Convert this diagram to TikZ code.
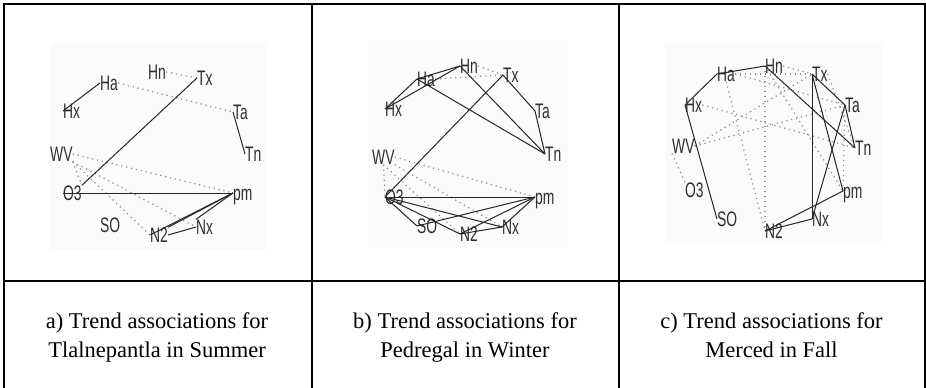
\documentclass[tikz,border=0pt]{standalone}
\usepackage{fontspec}
\setmainfont{Liberation Serif}
\newfontfamily\labfont[FakeStretch=0.66]{Liberation Sans}
\begin{document}
\begin{tikzpicture}[x=1pt,y=-1pt,
  lab/.style={font=\labfont\fontsize{21}{22}\selectfont, text=black!82, inner sep=0pt, anchor=west, text height=15pt, text depth=0pt},
  sl/.style={line width=1pt, draw=black!85},
  dl/.style={line width=1.2pt, draw=black!45, dash pattern=on 1.2pt off 3.8pt},
  frame/.style={line width=2pt, line join=miter},
  captxt/.style={font=\fontsize{22.5}{28.5}\selectfont, align=center, anchor=base},
  bg/.style={fill=black!1.5, draw=none}]
\useasboundingbox (0,0) rectangle (926,388);
% faint image backgrounds
\fill[bg] (50,43) rectangle (267,250);
\fill[bg] (368,40) rectangle (568,247);
\fill[bg] (665,43) rectangle (882,243);
% table frame
\draw[frame] (4,392) -- (4,3.5) -- (924.5,3.5) -- (924.5,392);
\draw[frame] (4,280.5) -- (924.5,280.5);
\draw[frame] (312,3.5) -- (312,392);
\draw[frame] (618.5,3.5) -- (618.5,392);
% captions (anchor = baseline of the last line)
\node[captxt] (capa) at (157,357) {a) Trend associations for\\Tlalnepantla in Summer};
\node[captxt] (capb) at (465,357) {b) Trend associations for\\Pedregal in Winter};
\node[captxt] (capc) at (771.5,357) {c) Trend associations for\\Merced in Fall};
% ---------- panel a ----------
\node[lab] (aHa) at (100,83) {Ha};
\node[lab] (aHn) at (148,72) {Hn};
\node[lab] (aTx) at (197,78) {Tx};
\node[lab] (aHx) at (63,111) {Hx};
\node[lab] (aTa) at (233,112) {Ta};
\node[lab] (aTn) at (245,154) {Tn};
\node[lab] (aWV) at (50,154) {WV};
\node[lab] (aO3) at (63,193) {O3};
\node[lab] (apm) at (233,193) {pm};
\node[lab] (aSO) at (100,225) {SO};
\node[lab] (aN2) at (150,235) {N2};
\node[lab] (aNx) at (196,227) {Nx};
\draw[dl] (aHn.east) -- (aTx.west);
\draw[dl] (aHa.east) -- (aTa.west);
\draw[dl] (aWV.east) -- (apm.west);
\draw[dl] (aWV.south east) -- (aNx.west);
\draw[dl] (aWV.south east) -- (aO3.north east);
\draw[dl] (aWV.south east) -- (aN2.west);
\draw[sl] (aHx.west) -- (aHa.west);
\draw[sl] (aTx.west) -- (aO3.north east);
\draw[sl] (aTa.west) -- (aTn.west);
\draw[sl] (aO3.west) -- (apm.west);
\draw[sl] (apm.west) -- (aN2.west);
\draw[sl] (apm.west) -- (aN2.north east);
\draw[sl] (apm.west) -- (aNx.north west);
\draw[sl] (aN2.east) -- (aNx.west);
% ---------- panel b ----------
\node[lab] (bHn) at (460,66) {Hn};
\node[lab] (bHa) at (417,79) {Ha};
\node[lab] (bTx) at (503,75) {Tx};
\node[lab] (bHx) at (385,109) {Hx};
\node[lab] (bTa) at (535,111) {Ta};
\node[lab] (bTn) at (545,154) {Tn};
\node[lab] (bWV) at (372,157) {WV};
\node[lab] (bO3) at (385,197) {O3};
\node[lab] (bpm) at (535,197) {pm};
\node[lab] (bSO) at (417,226) {SO};
\node[lab] (bN2) at (460,234) {N2};
\node[lab] (bNx) at (502,227) {Nx};
\draw[dl] (bHa.east) -- (bTx.west);
\draw[dl] (bHn.east) -- (bTx.west);
\draw[dl] (bWV.east) -- (bpm.west);
\draw[dl] (bWV.south) -- (bO3.west);
\draw[dl] (bWV.south) -- (bN2.west);
\draw[dl] (bWV.south east) -- (bNx.west);
\draw[sl] (bHx.west) -- (bHa.west);
\draw[sl] (bHx.west) -- (bHn.west);
\draw[sl] (bHa.west) -- (bHn.west);
\draw[sl] (bHa.west) -- (bTn.west);
\draw[sl] (bHn.west) -- (bTn.west);
\draw[sl] (bTx.west) -- (bTa.west);
\draw[sl] (bTa.west) -- (bTn.west);
\draw[sl] (bTx.west) -- (bO3.west);
\draw[sl] (bO3.west) -- (bpm.west);
\draw[sl] (bO3.west) -- (bSO.west);
\draw[sl] (bO3.west) -- (bN2.west);
\draw[sl] (bO3.west) -- (bNx.west);
\draw[sl] (bSO.west) -- (bpm.west);
\draw[sl] (bN2.west) -- (bpm.west);
\draw[sl] (bN2.west) -- (bNx.west);
\draw[sl] (bNx.west) -- (bpm.west);
% ---------- panel c ----------
\node[lab] (cHn) at (765,66) {Hn};
\node[lab] (cHa) at (717,74) {Ha};
\node[lab] (cTx) at (812,74) {Tx};
\node[lab] (cHx) at (685,105) {Hx};
\node[lab] (cTa) at (845,105) {Ta};
\node[lab] (cTn) at (855,148) {Tn};
\node[lab] (cWV) at (672,146) {WV};
\node[lab] (cO3) at (685,190) {O3};
\node[lab] (cpm) at (843,191) {pm};
\node[lab] (cSO) at (717,219) {SO};
\node[lab] (cN2) at (765,231) {N2};
\node[lab] (cNx) at (812,219) {Nx};
\draw[dl] (cHn.east) -- (cTx.west);
\draw[dl] (cHa.east) -- (cTx.west);
\draw[dl] (cHa.east) -- (cTa.west);
\draw[dl] (cHx.east) -- (cTn.west);
\draw[dl] (cHn.west) -- (cN2.west);
\draw[dl] (cHn.west) -- (cpm.west);
\draw[dl] (cHa.south) -- (cN2.west);
\draw[dl] (cWV.east) -- (cTa.west);
\draw[dl] (cWV.east) -- (cTx.west);
\draw[dl] (cWV.south west) -- (cO3.north west);
\draw[dl] (cTx.east) -- (cTn.west);
\draw[dl] (cTa.west) -- (cpm.west);
\draw[sl] (cHx.west) -- (cHa.west);
\draw[sl] (cHa.west) -- (cHn.west);
\draw[sl] (cHn.west) -- (cTn.west);
\draw[sl] (cHx.west) -- (cSO.west);
\draw[sl] (cTx.west) -- (cNx.west);
\draw[sl] (cTx.west) -- (cpm.west);
\draw[sl] (cTx.west) -- (cTa.west);
\draw[sl] (cTa.west) -- (cTn.west);
\draw[sl] (cTa.west) -- (cNx.west);
\draw[sl] (cN2.west) -- (cpm.west);
\draw[sl] (cN2.west) -- (cNx.west);
\end{tikzpicture}
\end{document}
